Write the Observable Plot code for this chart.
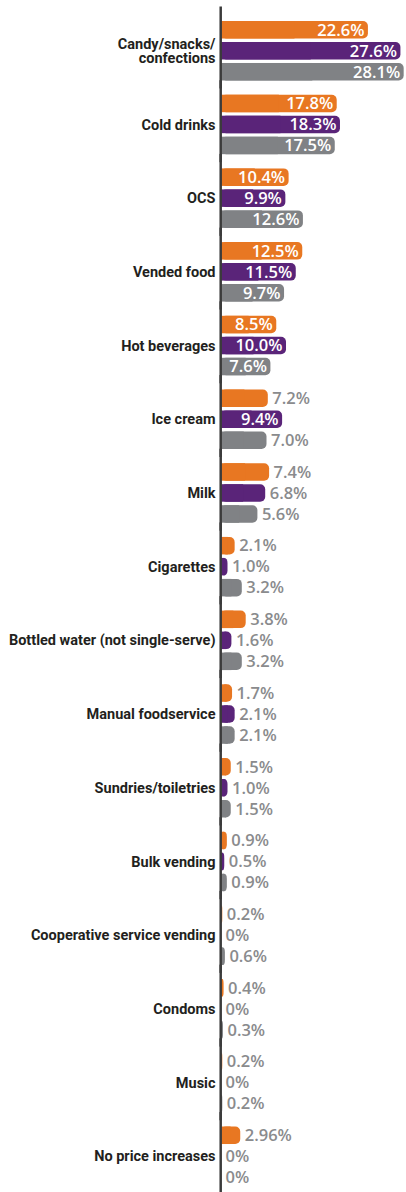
<!DOCTYPE html>
<html>
<head>
<meta charset="utf-8">
<script src="https://cdn.jsdelivr.net/npm/d3@7"></script>
<script src="https://cdn.jsdelivr.net/npm/@observablehq/plot@0.6"></script>
<style>
html, body { margin: 0; padding: 0; background: #ffffff; }
#chart svg { display: block; }
</style>
</head>
<body>
<div id="chart"></div>
<script>
// ---- Data ----
const categories = [
  "Candy/snacks/\nconfections",
  "Cold drinks",
  "OCS",
  "Vended food",
  "Hot beverages",
  "Ice cream",
  "Milk",
  "Cigarettes",
  "Bottled water (not single-serve)",
  "Manual foodservice",
  "Sundries/toiletries",
  "Bulk vending",
  "Cooperative service vending",
  "Condoms",
  "Music",
  "No price increases"
];
const seriesNames = ["Series 1", "Series 2", "Series 3"];
const series1Values = [22.6, 17.8, 10.4, 12.5, 8.5, 7.2, 7.4, 2.1, 3.8, 1.7, 1.5, 0.9, 0.2, 0.4, 0.2, 2.96];
const series2Values = [27.6, 18.3, 9.9, 11.5, 10.0, 9.4, 6.8, 1.0, 1.6, 2.1, 1.0, 0.5, 0, 0, 0, 0];
const series3Values = [28.1, 17.5, 12.6, 9.7, 7.6, 7.0, 5.6, 3.2, 3.2, 2.1, 1.5, 0.9, 0.6, 0.3, 0.2, 0];
const seriesColors = ["#e87722", "#5a2479", "#808285"];

// ---- Table built from the arrays ----
const valueArrays = [series1Values, series2Values, series3Values];
const data = [];
categories.forEach((c, i) => {
  seriesNames.forEach((s, j) => {
    data.push({category: c, series: s, value: valueArrays[j][i]});
  });
});

const fmt = v => v === 0 ? "0%" : (Number.isInteger(Math.round(v * 100) / 10) ? v.toFixed(1) : String(v)) + "%";
const insideThreshold = 7.5;
const valueFont = "'Open Sans', 'Liberation Sans', sans-serif";
const catFont = "Roboto, 'Liberation Sans', sans-serif";

const plot = Plot.plot({
  width: 406,
  height: 1192,
  marginLeft: 221,
  marginRight: 2,
  marginTop: 21,
  marginBottom: 6,
  facet: {data, y: "category", marginTop: 0, marginBottom: 0, marginLeft: 0, marginRight: 0},
  fy: {domain: categories, paddingInner: 0.193, paddingOuter: 0, round: false, axis: null},
  y: {domain: seriesNames, paddingInner: 0.1667, paddingOuter: 0, round: false, axis: null},
  x: {domain: [0, 28.15], axis: null},
  color: {domain: seriesNames, range: seriesColors},
  marks: [
    Plot.barX(data, {x1: () => 0, x2: "value", y: "series", fill: "series", rx: 5}),
    Plot.barX(data, {x1: () => 0, x2: d => d.value / 2, y: "series", fill: "series"}),
    Plot.ruleX([0], {stroke: "#3b3b3b", strokeWidth: 2.5, dx: -0.8, insetTop: -14.5, insetBottom: -8}),
    Plot.text(data, {
      filter: d => d.value >= insideThreshold,
      x: "value", y: "series", text: d => fmt(d.value),
      textAnchor: "end", dx: -4, fill: "white",
      fontSize: 16.5, fontWeight: 600, fontFamily: valueFont
    }),
    Plot.text(data, {
      filter: d => d.value < insideThreshold,
      x: "value", y: "series", text: d => fmt(d.value),
      textAnchor: "start", dx: 4, fill: "#8a8b8d",
      fontSize: 16.5, fontWeight: 600, fontFamily: valueFont
    }),
    Plot.text(data, {
      filter: d => d.series === seriesNames[1],
      y: "series", frameAnchor: "left", text: "category",
      textAnchor: "end", dx: -6, fill: "#231f20", lineHeight: 1.0,
      fontSize: 14.5, fontWeight: 700, fontFamily: catFont
    })
  ]
});
document.getElementById("chart").appendChild(plot);
</script>
</body>
</html>
